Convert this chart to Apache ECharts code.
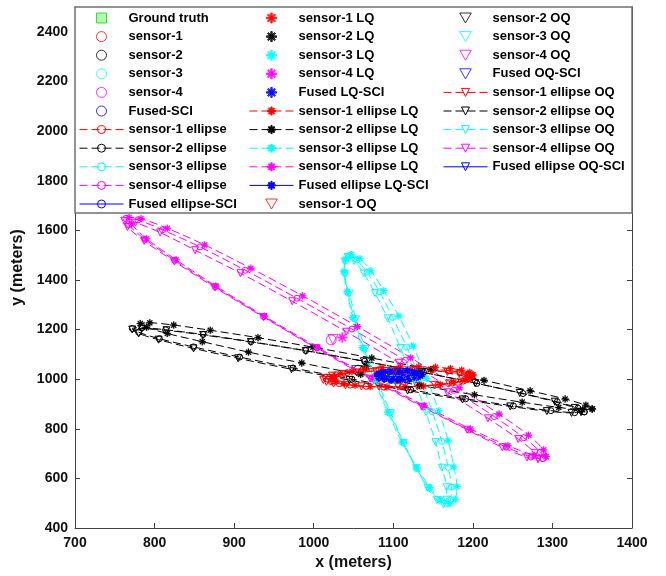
<!DOCTYPE html>
<html>
<head>
<meta charset="utf-8">
<script src="https://cdn.jsdelivr.net/npm/echarts@6/dist/echarts.min.js"></script>
<style>html,body{margin:0;padding:0;background:#fff}#c{width:666px;height:576px}</style>
</head>
<body>
<div id="c"></div>
<script>
// ---- axis ticks ----
const xTicks = {min: 700, max: 1400, step: 100};
const yTicks = {min: 400, max: 2500, step: 200};

// ---- point estimates ----
const groundTruth = [1100, 1005];
const sensor1 = [1108, 1005];
const sensor2 = [1056, 1036];
const sensor3 = [1106, 996];
const sensor4 = [1022, 1158];
const fusedSCI = [1106, 1014];
const sensor1LQ = [1112, 1009];
const sensor2LQ = [1066, 1052];
const sensor3LQ = [1109, 1000];
const sensor4LQ = [1036, 1168];
const fusedLQ = [1108, 1016];
const sensor1OQ = [1104, 1002];
const sensor2OQ = [1054, 1034];
const sensor3OQ = [1103, 994];
const sensor4OQ = [1024, 1160];
const fusedOQ = [1104, 1012];

// ---- ellipse outlines ----
const sensor1Ellipse = [[1198,1011],[1194,1020],[1184,1028],[1170,1034],[1150,1039],[1128,1042],[1105,1041],[1082,1038],[1060,1033],[1042,1026],[1028,1018],[1020,1008],[1018,999],[1022,990],[1032,982],[1046,976],[1066,971],[1088,968],[1111,969],[1134,972],[1156,977],[1174,984],[1188,992],[1196,1002]];
const sensor2Ellipse = [[1340,868],[1332,883],[1306,909],[1263,942],[1205,983],[1138,1027],[1064,1072],[990,1115],[921,1151],[861,1180],[814,1199],[784,1207],[772,1204],[780,1189],[806,1163],[849,1130],[907,1089],[974,1045],[1048,1000],[1122,957],[1191,921],[1251,892],[1298,873],[1328,865]];
const sensor3Ellipse = [[1045,1496],[1054,1480],[1067,1431],[1083,1352],[1099,1249],[1117,1129],[1134,999],[1149,869],[1161,749],[1169,644],[1173,565],[1172,514],[1167,496],[1158,512],[1145,561],[1129,640],[1113,743],[1095,863],[1078,993],[1063,1123],[1051,1243],[1043,1348],[1039,1427],[1040,1478]];
const sensor4Ellipse = [[1288,680],[1285,706],[1264,764],[1227,849],[1176,955],[1115,1076],[1048,1202],[979,1326],[914,1439],[857,1533],[810,1602],[779,1642],[764,1648],[767,1622],[788,1564],[825,1479],[876,1373],[937,1252],[1004,1126],[1073,1002],[1138,889],[1195,795],[1242,726],[1273,686]];
const fusedEllipse = [[1132,1016],[1130,1023],[1123,1027],[1115,1031],[1105,1031],[1095,1029],[1087,1025],[1082,1019],[1080,1012],[1082,1005],[1089,1001],[1097,997],[1107,997],[1117,999],[1125,1003],[1130,1009]];

const sensor1EllipseLQ = [[1200,1017],[1196,1027],[1186,1036],[1172,1043],[1153,1048],[1132,1050],[1109,1049],[1086,1046],[1065,1040],[1048,1031],[1034,1022],[1026,1011],[1024,1001],[1028,991],[1038,982],[1052,975],[1071,970],[1092,968],[1115,969],[1138,972],[1159,978],[1176,987],[1190,996],[1198,1007]];
const sensor2EllipseLQ = [[1350,880],[1342,895],[1316,920],[1272,953],[1214,995],[1147,1039],[1073,1085],[999,1129],[930,1167],[870,1197],[824,1218],[794,1227],[782,1224],[790,1209],[816,1184],[860,1151],[918,1109],[985,1065],[1059,1019],[1133,975],[1202,937],[1262,907],[1308,886],[1338,877]];
const sensor3EllipseLQ = [[1047,1502],[1058,1486],[1072,1437],[1088,1357],[1107,1254],[1125,1133],[1142,1003],[1157,873],[1169,752],[1176,647],[1180,567],[1178,516],[1171,498],[1160,514],[1146,563],[1130,643],[1111,746],[1093,867],[1076,997],[1061,1127],[1049,1248],[1042,1353],[1038,1433],[1040,1484]];
const sensor4EllipseLQ = [[1292,688],[1289,715],[1270,774],[1233,859],[1183,965],[1122,1086],[1055,1212],[986,1336],[921,1447],[863,1541],[816,1608],[783,1647],[768,1652],[771,1625],[790,1566],[827,1481],[877,1375],[938,1254],[1005,1128],[1074,1004],[1139,893],[1197,799],[1244,732],[1277,693]];
const fusedEllipseLQ = [[1136,1019],[1134,1026],[1127,1031],[1118,1035],[1107,1035],[1096,1033],[1087,1027],[1082,1020],[1080,1013],[1082,1006],[1089,1001],[1098,997],[1109,997],[1120,999],[1129,1005],[1134,1012]];

const sensor1EllipseOQ = [[1196,1007],[1192,1015],[1183,1022],[1168,1029],[1148,1033],[1126,1034],[1102,1034],[1078,1032],[1056,1027],[1038,1021],[1023,1014],[1014,1005],[1012,997],[1016,989],[1025,982],[1040,975],[1060,971],[1082,970],[1106,970],[1130,972],[1152,977],[1170,983],[1185,990],[1194,999]];
const sensor2EllipseOQ = [[1336,868],[1328,884],[1303,909],[1259,944],[1203,984],[1136,1028],[1063,1072],[990,1114],[921,1150],[861,1178],[815,1197],[784,1204],[772,1200],[780,1184],[805,1159],[849,1124],[905,1084],[972,1040],[1045,996],[1118,954],[1187,918],[1247,890],[1293,871],[1324,864]];
const sensor3EllipseOQ = [[1043,1492],[1051,1476],[1063,1426],[1077,1347],[1093,1245],[1109,1125],[1126,996],[1141,867],[1153,747],[1161,643],[1167,564],[1167,514],[1163,496],[1155,512],[1143,562],[1129,641],[1113,743],[1097,863],[1080,992],[1065,1121],[1053,1241],[1045,1345],[1039,1424],[1039,1474]];
const sensor4EllipseOQ = [[1282,678],[1278,703],[1257,759],[1219,842],[1168,947],[1107,1066],[1041,1191],[973,1314],[908,1427],[851,1520],[807,1591],[776,1631],[762,1638],[766,1613],[787,1557],[825,1474],[876,1369],[937,1250],[1003,1125],[1071,1002],[1136,889],[1193,796],[1237,725],[1268,685]];
const fusedEllipseOQ = [[1128,1014],[1126,1020],[1120,1024],[1112,1027],[1103,1027],[1094,1025],[1086,1022],[1082,1016],[1080,1010],[1082,1004],[1088,1000],[1096,997],[1105,997],[1114,999],[1122,1002],[1126,1008]];

// ---- legend columns ----
const legendCol1 = ['Ground truth','sensor-1','sensor-2','sensor-3','sensor-4','Fused-SCI','sensor-1 ellipse','sensor-2 ellipse','sensor-3 ellipse','sensor-4 ellipse','Fused ellipse-SCI'];
const legendCol2 = ['sensor-1 LQ','sensor-2 LQ','sensor-3 LQ','sensor-4 LQ','Fused LQ-SCI','sensor-1 ellipse LQ','sensor-2 ellipse LQ','sensor-3 ellipse LQ','sensor-4 ellipse LQ','Fused ellipse LQ-SCI','sensor-1 OQ'];
const legendCol3 = ['sensor-2 OQ','sensor-3 OQ','sensor-4 OQ','Fused OQ-SCI','sensor-1 ellipse OQ','sensor-2 ellipse OQ','sensor-3 ellipse OQ','sensor-4 ellipse OQ','Fused ellipse OQ-SCI'];

// ---- styling ----
const COL = {r:'#ff0000', k:'#000000', c:'#00ffff', m:'#ff00ff', b:'#0000ff'};
const STAR = 'path://M8.5,0 L11.5,0 L11.5,20 L8.5,20 Z M0,8.5 L20,8.5 L20,11.5 L0,11.5 Z M3.99,1.87 L18.13,16.01 L16.01,18.13 L1.87,3.99 Z M16.01,1.87 L18.13,3.99 L3.99,18.13 L1.87,16.01 Z';
const TRI = 'path://M0,0 L20,0 L10,17.3 Z';
const SQUARE = 'path://M0,0 L10,0 L10,10 L0,10 Z';
const FONT = 'Liberation Sans';

function symOf(kind){ return kind === 'star' ? STAR : (kind === 'tri' ? TRI : 'circle'); }
function itemOf(kind, col){
  if (kind === 'star') return {color: col, borderColor: col, borderWidth: 0.3};
  return {color: 'rgba(0,0,0,0)', borderColor: col, borderWidth: 1};
}
function pt(name, p, kind, col){
  return {type:'scatter', name:name, data:[p], symbol:symOf(kind), symbolSize:10,
    itemStyle:itemOf(kind,col), silent:true};
}
function ell(name, arr, kind, col, dashed){
  return {type:'line', name:name, data:arr.concat([arr[0]]), smooth:0.3, symbol:symOf(kind),
    symbolSize: kind==='circle'?6:7, itemStyle:itemOf(kind,col), showSymbol:true,
    lineStyle:{color:col, width:1, type: dashed ? [8,4] : 'solid'}, silent:true};
}

const series = [
  {type:'scatter', name:'Ground truth', data:[groundTruth], symbol:SQUARE, symbolSize:9,
   itemStyle:{color:'#9cff9c', borderColor:'#00e000', borderWidth:2.5}, silent:true},
  pt('sensor-1', sensor1, 'circle', COL.r),
  pt('sensor-2', sensor2, 'circle', COL.k),
  pt('sensor-3', sensor3, 'circle', COL.c),
  pt('sensor-4', sensor4, 'circle', COL.m),
  pt('Fused-SCI', fusedSCI, 'circle', COL.b),
  ell('sensor-1 ellipse', sensor1Ellipse, 'circle', COL.r, true),
  ell('sensor-2 ellipse', sensor2Ellipse, 'circle', COL.k, true),
  ell('sensor-3 ellipse', sensor3Ellipse, 'circle', COL.c, true),
  ell('sensor-4 ellipse', sensor4Ellipse, 'circle', COL.m, true),
  ell('Fused ellipse-SCI', fusedEllipse, 'circle', COL.b, false),
  pt('sensor-1 LQ', sensor1LQ, 'star', COL.r),
  pt('sensor-2 LQ', sensor2LQ, 'star', COL.k),
  pt('sensor-3 LQ', sensor3LQ, 'star', COL.c),
  pt('sensor-4 LQ', sensor4LQ, 'star', COL.m),
  pt('Fused LQ-SCI', fusedLQ, 'star', COL.b),
  ell('sensor-1 ellipse LQ', sensor1EllipseLQ, 'star', COL.r, true),
  ell('sensor-2 ellipse LQ', sensor2EllipseLQ, 'star', COL.k, true),
  ell('sensor-3 ellipse LQ', sensor3EllipseLQ, 'star', COL.c, true),
  ell('sensor-4 ellipse LQ', sensor4EllipseLQ, 'star', COL.m, true),
  ell('Fused ellipse LQ-SCI', fusedEllipseLQ, 'star', COL.b, false),
  pt('sensor-1 OQ', sensor1OQ, 'tri', COL.r),
  pt('sensor-2 OQ', sensor2OQ, 'tri', COL.k),
  pt('sensor-3 OQ', sensor3OQ, 'tri', COL.c),
  pt('sensor-4 OQ', sensor4OQ, 'tri', COL.m),
  pt('Fused OQ-SCI', fusedOQ, 'tri', COL.b),
  ell('sensor-1 ellipse OQ', sensor1EllipseOQ, 'tri', COL.r, true),
  ell('sensor-2 ellipse OQ', sensor2EllipseOQ, 'tri', COL.k, true),
  ell('sensor-3 ellipse OQ', sensor3EllipseOQ, 'tri', COL.c, true),
  ell('sensor-4 ellipse OQ', sensor4EllipseOQ, 'tri', COL.m, true),
  ell('Fused ellipse OQ-SCI', fusedEllipseOQ, 'tri', COL.b, false)
];

function legend(data, left){
  return {data:data, orient:'vertical', left:left, top:11, itemWidth:44, itemHeight:10, itemGap:4.6,
    selectedMode:false, align:'left', padding:0, z:5,
    itemStyle:{borderWidth:1}, lineStyle:{width:1},
    textStyle:{fontFamily:FONT, fontWeight:'bold', fontSize:13, color:'#000', lineHeight:14}};
}

const axisCol = '#404040';
const labelStyle = {fontFamily:FONT, fontWeight:'bold', fontSize:14, color:'#111'};
function xAx(pos, show){
  return {type:'value', position:pos, min:xTicks.min, max:xTicks.max, interval:xTicks.step,
    axisLine:{show:true, onZero:false, lineStyle:{color:axisCol, width:1}},
    axisTick:{show:true, inside:true, length:5, lineStyle:{color:axisCol}},
    axisLabel:Object.assign({show:show, margin:8, formatter:function(v){return String(v);}}, labelStyle),
    splitLine:{show:false},
    name: show ? 'x (meters)' : '', nameLocation:'middle', nameGap:25,
    nameTextStyle:{fontFamily:FONT, fontWeight:'bold', fontSize:16, color:'#111'}};
}
function yAx(pos, show){
  return {type:'value', position:pos, min:yTicks.min, max:yTicks.max, interval:yTicks.step,
    axisLine:{show:true, onZero:false, lineStyle:{color:axisCol, width:1}},
    axisTick:{show:true, inside:true, length:5, lineStyle:{color:axisCol}},
    axisLabel:Object.assign({show:show, margin:7, showMaxLabel:false,
      formatter:function(v){return v > 2400 ? '' : String(v);}}, labelStyle),
    splitLine:{show:false},
    name: show ? 'y (meters)' : '', nameLocation:'middle', nameGap:40, nameRotate:90,
    nameTextStyle:{fontFamily:FONT, fontWeight:'bold', fontSize:16, color:'#111'}};
}

const chart = echarts.init(document.getElementById('c'), null, {renderer:'canvas'});
chart.setOption({
  animation:false,
  backgroundColor:'#fff',
  textStyle:{fontFamily:FONT},
  grid:{left:75, right:34, top:7, bottom:48, containLabel:false},
  xAxis:[xAx('bottom', true), xAx('top', false)],
  yAxis:[yAx('left', true), yAx('right', false)],
  legend:[legend(legendCol1, 79), legend(legendCol2, 249), legend(legendCol3, 443)],
  graphic:[{type:'rect', z:3, silent:true, shape:{x:75, y:7, width:557, height:206},
    style:{fill:'#fff', stroke:'#707070', lineWidth:1.5}}],
  series:series
});
</script>
</body>
</html>
